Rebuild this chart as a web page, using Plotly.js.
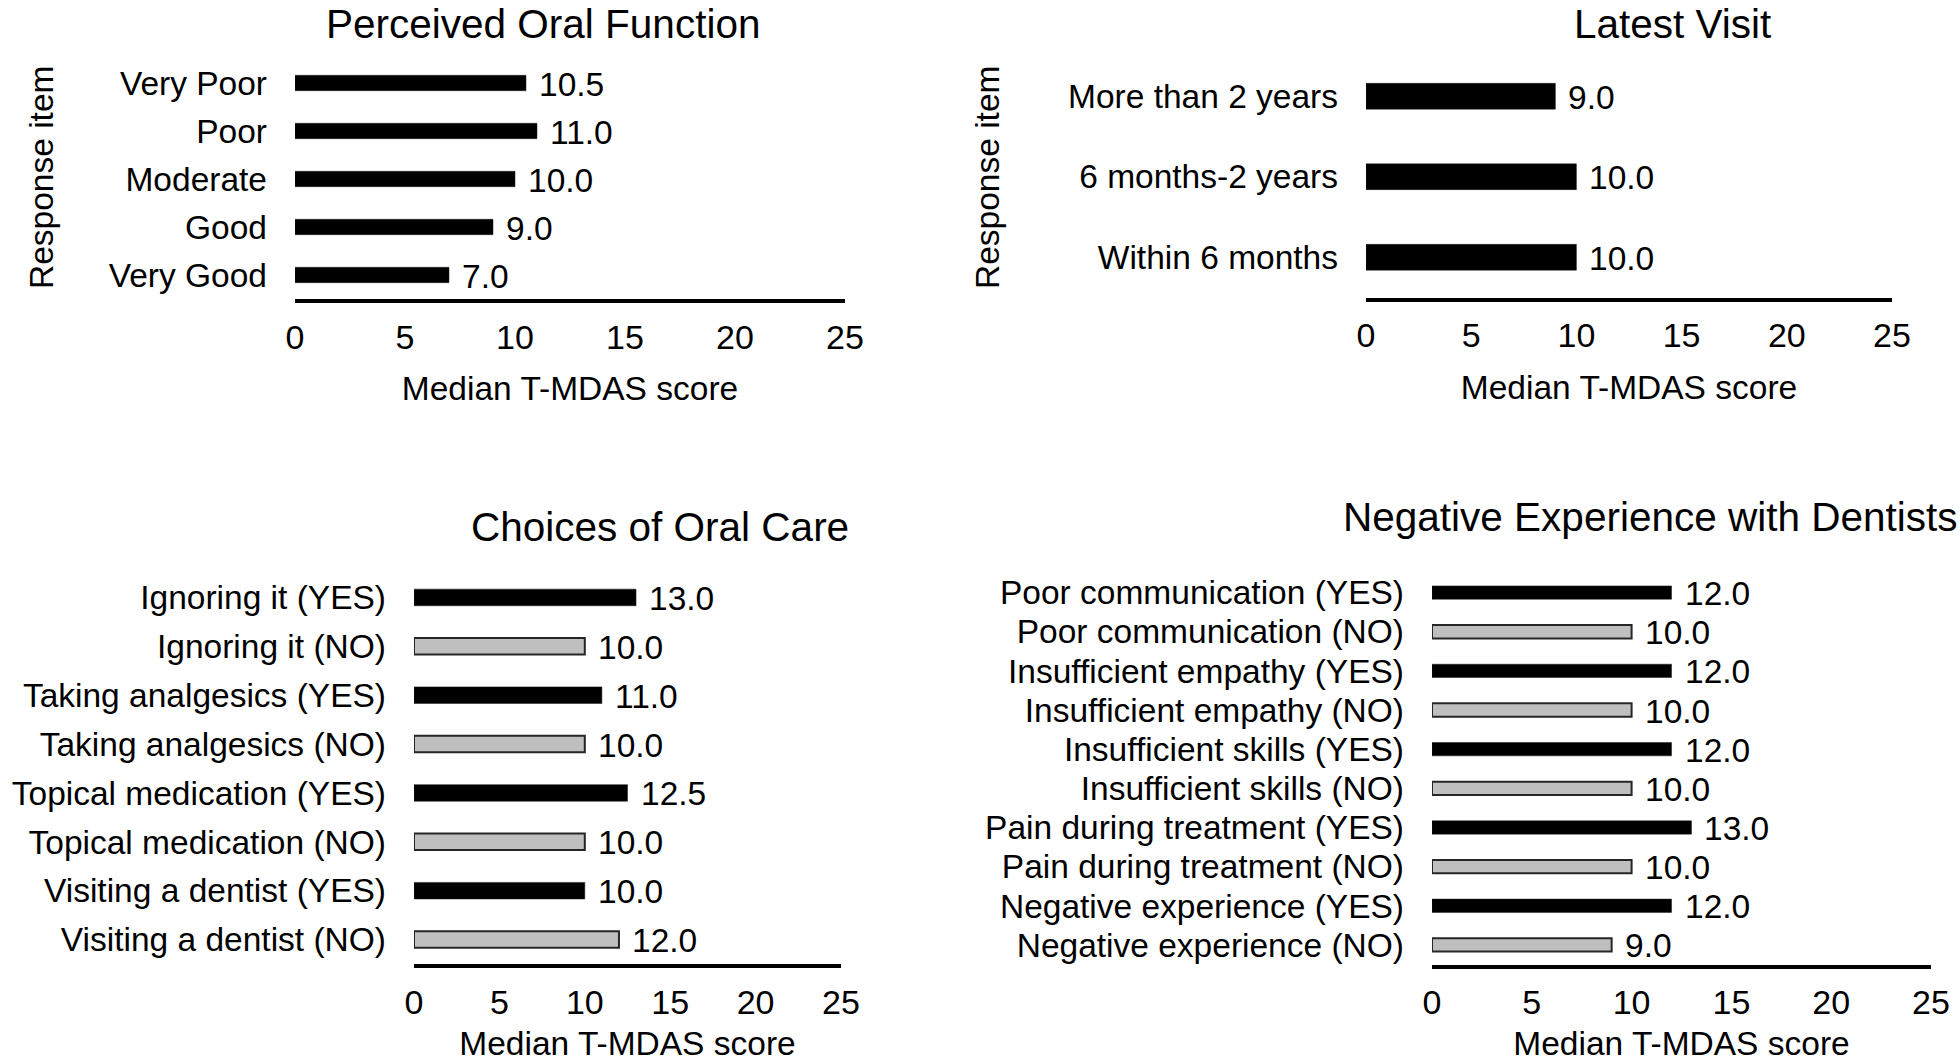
<!DOCTYPE html>
<html>
<head>
<meta charset="utf-8">
<script src="https://cdn.plot.ly/plotly-3.0.1.min.js"></script>
<style>
  html, body { margin: 0; padding: 0; background: #ffffff; }
  #chart { width: 1960px; height: 1062px; }
</style>
</head>
<body>
<div id="chart"></div>
<script>
// ---------------- Data ----------------
const oralFunctionItems = ["Very Poor", "Poor", "Moderate", "Good", "Very Good"];
const oralFunctionScores = [10.5, 11.0, 10.0, 9.0, 7.0];

const latestVisitItems = ["More than 2 years", "6 months-2 years", "Within 6 months"];
const latestVisitScores = [9.0, 10.0, 10.0];

const oralCareItems = [
  "Ignoring it (YES)", "Ignoring it (NO)",
  "Taking analgesics (YES)", "Taking analgesics (NO)",
  "Topical medication (YES)", "Topical medication (NO)",
  "Visiting a dentist (YES)", "Visiting a dentist (NO)"
];
const oralCareScores = [13.0, 10.0, 11.0, 10.0, 12.5, 10.0, 10.0, 12.0];

const negativeItems = [
  "Poor communication (YES)", "Poor communication (NO)",
  "Insufficient empathy (YES)", "Insufficient empathy (NO)",
  "Insufficient skills (YES)", "Insufficient skills (NO)",
  "Pain during treatment (YES)", "Pain during treatment (NO)",
  "Negative experience (YES)", "Negative experience (NO)"
];
const negativeScores = [12.0, 10.0, 12.0, 10.0, 12.0, 10.0, 13.0, 10.0, 12.0, 9.0];

const xTickValues = [0, 5, 10, 15, 20, 25];
const panelTitles = ["Perceived Oral Function", "Latest Visit", "Choices of Oral Care", "Negative Experience with Dentists"];
const xAxisTitle = "Median T-MDAS score";
const yAxisTitle = "Response item";

// ---------------- Styling ----------------
const FONT = "Arial, 'Liberation Sans', sans-serif";
const W = 1960, H = 1062;
const BLACK = "#000000";
const GRAY = "#bfbfbf";

function colorsFor(items) { return items.map(s => s.indexOf("(NO)") >= 0 ? GRAY : BLACK); }
function lineColorsFor(items) { return items.map(s => s.indexOf("(NO)") >= 0 ? "#262626" : "#1a1a1a"); }
function lineWidthsFor(items) { return items.map(s => s.indexOf("(NO)") >= 0 ? 2 : 0.5); }

// pixel -> paper helpers
const px = v => v / W;
const py = v => 1 - v / H;

const panels = [
  { items: oralFunctionItems, scores: oralFunctionScores, x0: 295, x1: 845, yTop: 59, yBot: 299, barW: 0.32 },
  { items: latestVisitItems, scores: latestVisitScores, x0: 1366, x1: 1892, yTop: 56, yBot: 297.5, barW: 0.32 },
  { items: oralCareItems, scores: oralCareScores, x0: 414, x1: 841, yTop: 573, yBot: 964, barW: 0.34 },
  { items: negativeItems, scores: negativeScores, x0: 1432, x1: 1931, yTop: 573, yBot: 964.5, barW: 0.34 }
];

const traces = [];
const layout = {
  width: W, height: H,
  margin: { l: 0, r: 0, t: 0, b: 0, pad: 0 },
  paper_bgcolor: "#ffffff",
  plot_bgcolor: "rgba(0,0,0,0)",
  showlegend: false,
  font: { family: FONT, color: "#000000", size: 33.5 },
  bargap: 0,
  annotations: []
};

panels.forEach((p, i) => {
  const n = i + 1;
  const xa = n === 1 ? "x" : "x" + n;
  const ya = n === 1 ? "y" : "y" + n;
  traces.push({
    type: "bar",
    orientation: "h",
    x: p.scores,
    y: p.items,
    width: p.barW,
    xaxis: xa, yaxis: ya,
    marker: {
      color: colorsFor(p.items),
      line: { color: lineColorsFor(p.items), width: lineWidthsFor(p.items) }
    },
    hoverinfo: "x+y"
  });
  layout["xaxis" + (n === 1 ? "" : n)] = {
    domain: [px(p.x0), px(p.x1)],
    anchor: ya,
    range: [0, 25],
    tickmode: "array",
    tickvals: xTickValues,
    ticktext: xTickValues.map(String),
    showgrid: false, zeroline: false,
    showline: true, linecolor: "#000000", linewidth: 4,
    ticks: "", ticklabelstandoff: 5,
    tickfont: { family: FONT, size: 34, color: "#000000" },
    automargin: false,
    fixedrange: true,
    title: { text: xAxisTitle, font: { family: FONT, size: 33.5, color: "#000000" }, standoff: 23 }
  };
  layout["yaxis" + (n === 1 ? "" : n)] = {
    domain: [py(p.yBot), py(p.yTop)],
    anchor: xa,
    type: "category",
    categoryorder: "array",
    categoryarray: p.items,
    tickmode: "array",
    tickvals: p.items,
    ticktext: p.items,
    range: [p.items.length - 0.5, -0.5],
    showgrid: false, zeroline: false, showline: false,
    ticks: "", ticklabelstandoff: 27,
    tickfont: { family: FONT, size: 33.5, color: "#000000" },
    automargin: false,
    fixedrange: true
  };
  // value labels
  p.items.forEach((it, k) => {
    layout.annotations.push({
      xref: xa, yref: ya, x: p.scores[k], y: it,
      text: p.scores[k].toFixed(1),
      showarrow: false, xanchor: "left", yanchor: "middle",
      xshift: 11, yshift: -1,
      font: { family: FONT, size: 33.5, color: "#000000" }
    });
  });
});

// panel titles
const titlePos = [[543, 24], [1672, 24], [660, 527], [1650, 517]];
panelTitles.forEach((t, i) => {
  layout.annotations.push({
    xref: "paper", yref: "paper",
    x: px(titlePos[i][0]), y: py(titlePos[i][1]),
    text: t, showarrow: false, xanchor: "center", yanchor: "middle",
    font: { family: FONT, size: 40.5, color: "#000000" }
  });
});

// y-axis titles for the top panels
[[42, 178], [988, 178]].forEach(pos => {
  layout.annotations.push({
    xref: "paper", yref: "paper",
    x: px(pos[0]), y: py(pos[1]),
    text: yAxisTitle, textangle: -90, showarrow: false,
    xanchor: "center", yanchor: "middle",
    font: { family: FONT, size: 33.5, color: "#000000" }
  });
});

Plotly.newPlot("chart", traces, layout, { displayModeBar: false, staticPlot: true });
</script>
</body>
</html>
